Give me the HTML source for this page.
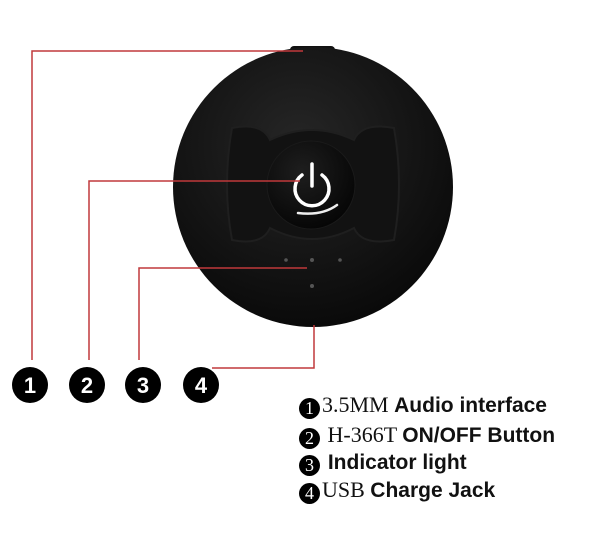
<!DOCTYPE html>
<html><head><meta charset="utf-8"><style>
html,body{margin:0;padding:0;background:#fff;width:600px;height:533px;overflow:hidden}
.leg{position:absolute;left:299px;font-size:22px;color:#111;white-space:nowrap;line-height:26px}
.leg .n{display:inline-block;width:21px;height:21px;border-radius:50%;background:#000;color:#fff;font-family:"Liberation Serif",serif;font-size:18px;line-height:21px;text-align:center;vertical-align:-2px;margin-right:2px}
.s{font-family:"Liberation Serif",serif}
.b{font-family:"Liberation Sans",sans-serif;font-weight:bold;font-size:21px}
</style></head><body>
<svg width="600" height="533" style="position:absolute;left:0;top:0">
<defs>
<radialGradient id="g" cx="45%" cy="35%" r="70%"><stop offset="0" stop-color="#262626"/><stop offset="1" stop-color="#080808"/></radialGradient>
<radialGradient id="bg" cx="40%" cy="35%" r="70%"><stop offset="0" stop-color="#1e1e1e"/><stop offset="1" stop-color="#050505"/></radialGradient>
</defs>
<rect x="290" y="46" width="45" height="8" rx="4" fill="#111"/>
<circle cx="313" cy="187" r="140" fill="url(#g)"/>
<path d="M232,128 Q262,122 270,140 Q312,120 354,140 Q362,122 394,128 Q404,185 394,240 Q362,246 354,228 Q312,250 270,228 Q262,246 232,240 Q222,185 232,128Z" fill="#121212" stroke="#1f1f1f" stroke-width="2"/>
<circle cx="311" cy="185" r="44" fill="url(#bg)" stroke="#1a1a1a" stroke-width="1"/>
<line x1="312" y1="164" x2="312" y2="186" stroke="#fff" stroke-width="3.5" stroke-linecap="round"/>
<path d="M302,175 A17,17 0 1 0 322,175" fill="none" stroke="#fff" stroke-width="3.5" stroke-linecap="round"/>
<path d="M298,213 Q322,216 337,205" fill="none" stroke="#eee" stroke-width="2.5" stroke-linecap="round"/>
<g fill="#555"><circle cx="286" cy="260" r="1.8"/><circle cx="312" cy="260" r="2"/><circle cx="340" cy="260" r="1.8"/><circle cx="312" cy="286" r="2"/></g>
<g fill="none" stroke="#c0393b" stroke-width="1.5">
<polyline points="32,360 32,51 303,51"/>
<polyline points="89,360 89,181 300,181"/>
<polyline points="139,360 139,268 307,268"/>
<polyline points="212,368 314,368 314,325"/>
</g>
<g fill="#000"><circle cx="30" cy="385" r="18"/><circle cx="87" cy="385" r="18"/><circle cx="143" cy="385" r="18"/><circle cx="201" cy="385" r="18"/></g>
<g fill="#fff" font-family="Liberation Sans,sans-serif" font-weight="bold" font-size="22" text-anchor="middle">
<text x="30" y="393">1</text><text x="87" y="393">2</text><text x="143" y="393">3</text><text x="201" y="393">4</text></g>
</svg>
<div class="leg" style="top:392px"><span class="n">1</span><span class="s">3.5MM </span><span class="b">Audio interface</span></div>
<div class="leg" style="top:422px"><span class="n">2</span><span class="s"> H-366T </span><span class="b">ON/OFF Button</span></div>
<div class="leg" style="top:449px"><span class="n">3</span><span class="b"> Indicator light</span></div>
<div class="leg" style="top:477px"><span class="n">4</span><span class="s">USB </span><span class="b">Charge Jack</span></div>
</body></html>
